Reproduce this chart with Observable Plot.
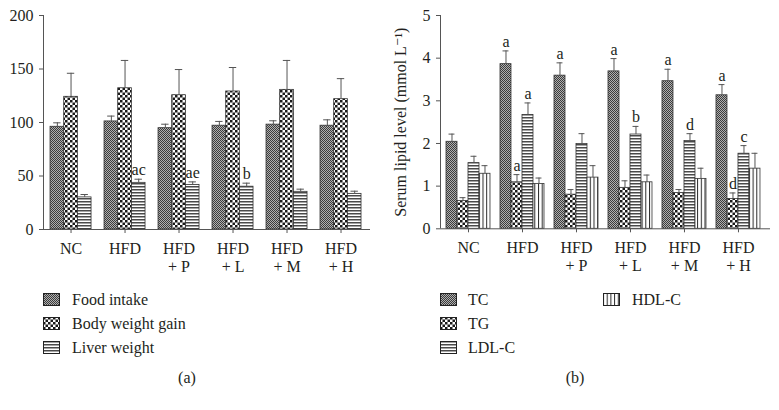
<!DOCTYPE html>
<html>
<head>
<meta charset="utf-8">
<script src="https://cdn.jsdelivr.net/npm/d3@7"></script>
<script src="https://cdn.jsdelivr.net/npm/@observablehq/plot@0.6"></script>
<style>
  html, body { margin: 0; padding: 0; background: #fff; }
  #root { position: relative; width: 779px; height: 410px; font-family: "Liberation Serif", "DejaVu Serif", serif; color: #231f20; }
  .panel { position: absolute; top: 0; }
  .lg { position: absolute; font-family: "Liberation Serif", serif; font-size: 16px; line-height: 16px; white-space: nowrap; }
  .sw { position: absolute; width: 17px; height: 13px; }
  .cap { position: absolute; font-family: "Liberation Serif", serif; font-size: 16px; transform: translateX(-50%); }
</style>
</head>
<body>
<svg width="0" height="0" style="position:absolute">
  <defs>
    <pattern id="pDense" width="2" height="2" patternUnits="userSpaceOnUse">
      <rect width="2" height="2" fill="#b0b0b0"/>
      <rect width="1" height="1" fill="#3c3c3c"/>
      <rect x="1" y="1" width="1" height="1" fill="#3c3c3c"/>
    </pattern>
    <pattern id="pCheck" width="5" height="5" patternUnits="userSpaceOnUse">
      <rect width="5" height="5" fill="#fff"/>
      <rect width="2.5" height="2.5" fill="#1a1a1a"/>
      <rect x="2.5" y="2.5" width="2.5" height="2.5" fill="#1a1a1a"/>
    </pattern>
    <pattern id="pH" width="3" height="3" patternUnits="userSpaceOnUse">
      <rect width="3" height="3" fill="#fff"/>
      <rect width="3" height="1.5" fill="#4a4a4a"/>
    </pattern>
    <pattern id="pV" width="3.7" height="3.7" patternUnits="userSpaceOnUse">
      <rect width="3.7" height="3.7" fill="#fff"/>
      <rect width="1" height="3.7" fill="#2a2a2a"/>
    </pattern>
  </defs>
</svg>
<div id="root"></div>
<script>
// ---------- data ----------
const groups = ["NC", "HFD", "HFD\n+ P", "HFD\n+ L", "HFD\n+ M", "HFD\n+ H"];

// Panel (a)
const seriesA = ["Food intake", "Body weight gain", "Liver weight"];
const foodIntake = [96, 101, 94.7, 97, 98, 97];
const foodIntakeSD = [3.7, 5, 3.7, 4, 3.6, 5.5];
const bodyWeightGain = [124, 132, 125.5, 129, 130.5, 121.8];
const bodyWeightGainSD = [22, 26, 24, 22.4, 27.5, 19.2];
const liverWeight = [30, 43.6, 41.7, 40, 35.2, 33.3];
const liverWeightSD = [2.7, 3.4, 2.8, 3.3, 2.5, 2.5];
const liverWeightSig = ["", "ac", "ae", "b", "", ""];
const yTicksA = [0, 50, 100, 150, 200];

// Panel (b)
const seriesB = ["TC", "TG", "LDL-C", "HDL-C"];
const tc = [2.04, 3.86, 3.59, 3.69, 3.46, 3.13];
const tcSD = [0.18, 0.31, 0.30, 0.30, 0.28, 0.25];
const tcSig = ["", "a", "a", "a", "a", "a"];
const tg = [0.65, 1.09, 0.80, 0.96, 0.84, 0.70];
const tgSD = [0.08, 0.18, 0.12, 0.165, 0.08, 0.14];
const tgSig = ["", "a", "", "", "", "d"];
const ldl = [1.54, 2.67, 1.99, 2.21, 2.06, 1.76];
const ldlSD = [0.16, 0.28, 0.24, 0.19, 0.17, 0.19];
const ldlSig = ["", "a", "", "b", "d", "c"];
const hdl = [1.29, 1.05, 1.20, 1.09, 1.17, 1.41];
const hdlSD = [0.19, 0.14, 0.28, 0.17, 0.25, 0.36];
const hdlSig = ["", "", "", "", "", ""];
const yTicksB = [0, 1, 2, 3, 4, 5];

const patterns = ["url(#pDense)", "url(#pCheck)", "url(#pH)", "url(#pV)"];

// ---------- build ----------
function rowsFor(list, bw) {
  const n = list.length, rows = [];
  list.forEach((s, j) => {
    s.values.forEach((v, i) => {
      const c = i + (j - (n - 1) / 2) * bw;
      rows.push({i, c, x1: c - bw / 2, x2: c + bw / 2, v, hi: v + s.sd[i],
                 sig: s.sig ? s.sig[i] : "", pat: patterns[s.pat]});
    });
  });
  return rows;
}

function panel({rows, bw, xDomain, yDomain, yTicks, width, height, marginLeft, marginRight, marginTop, marginBottom, ylabel}) {
  const cap = bw * 0.27;
  return Plot.plot({
    width, height, marginLeft, marginRight, marginTop, marginBottom,
    style: {fontFamily: "Liberation Serif, DejaVu Serif, serif", fontSize: "15px", color: "#231f20", background: "transparent", overflow: "visible"},
    x: {type: "linear", domain: xDomain},
    y: {domain: yDomain},
    color: {type: "identity"},
    marks: [
      Plot.rectY(rows, {x1: "x1", x2: "x2", y1: 0, y2: "v", fill: "pat", stroke: "#333", strokeWidth: 0.8}),
      Plot.ruleX(rows, {x: "c", y1: "v", y2: "hi", stroke: "#555", strokeWidth: 1}),
      Plot.ruleY(rows, {y: "hi", x1: d => d.c - cap, x2: d => d.c + cap, stroke: "#555", strokeWidth: 1}),
      Plot.text(rows.filter(d => d.sig), {x: "c", y: "hi", text: "sig", dy: -4, lineAnchor: "bottom", fontSize: 16, fill: "#231f20"}),
      Plot.ruleY([yDomain[0]], {stroke: "#555", strokeWidth: 1}),
      Plot.ruleX([xDomain[0]], {stroke: "#555", strokeWidth: 1}),
      Plot.axisX({ticks: d3.range(groups.length), tickFormat: i => groups[i], tickSize: 4, tickPadding: 8, fontSize: 16, lineHeight: 1.1, stroke: "#555", label: null}),
      Plot.axisY({ticks: yTicks, tickFormat: d3.format("d"), tickSize: 4, tickPadding: 6, fontSize: 16, stroke: "#555",
                  label: ylabel || null, labelAnchor: "center", labelArrow: "none", labelOffset: 46})
    ]
  });
}

const root = document.getElementById("root");

const rowsA = rowsFor([
  {values: foodIntake, sd: foodIntakeSD, pat: 0},
  {values: bodyWeightGain, sd: bodyWeightGainSD, pat: 1},
  {values: liverWeight, sd: liverWeightSD, sig: liverWeightSig, pat: 2}
], 13.67 / 54);
const plotA = panel({rows: rowsA, bw: 13.67 / 54, xDomain: [-0.51, 5.546], yDomain: [0, 200], yTicks: yTicksA,
  width: 390, height: 275, marginLeft: 43, marginRight: 20, marginTop: 15, marginBottom: 46});
plotA.classList.add("panel"); plotA.style.left = "0px";
root.appendChild(plotA);

const rowsB = rowsFor([
  {values: tc, sd: tcSD, sig: tcSig, pat: 0},
  {values: tg, sd: tgSD, sig: tgSig, pat: 1},
  {values: ldl, sd: ldlSD, sig: ldlSig, pat: 2},
  {values: hdl, sd: hdlSD, sig: hdlSig, pat: 3}
], 11 / 54);
const plotB = panel({rows: rowsB, bw: 11 / 54, xDomain: [-0.5185, 5.593], yDomain: [0, 5], yTicks: yTicksB,
  width: 389, height: 275, marginLeft: 50, marginRight: 9, marginTop: 15, marginBottom: 46.7,
  ylabel: "Serum lipid level (mmol L\u207B\u00B9)"});
plotB.classList.add("panel"); plotB.style.left = "390px";
root.appendChild(plotB);

// ---------- legends ----------
function legendItem(label, pat, x, y, tx) {
  const s = document.createElementNS("http://www.w3.org/2000/svg", "svg");
  s.setAttribute("class", "sw");
  s.setAttribute("width", 17); s.setAttribute("height", 13);
  s.style.left = x + "px"; s.style.top = y + "px";
  s.innerHTML = `<rect x="0.5" y="0.5" width="16" height="12" fill="${pat}" stroke="#222" stroke-width="1"/>`;
  root.appendChild(s);
  const t = document.createElement("div");
  t.className = "lg"; t.textContent = label;
  t.style.left = tx + "px"; t.style.top = (y - 1) + "px";
  root.appendChild(t);
}
const rowsY = [293, 317, 341];
seriesA.forEach((s, j) => legendItem(s, patterns[j], 43, rowsY[j], 72));
seriesB.slice(0, 3).forEach((s, j) => legendItem(s, patterns[j], 440, rowsY[j], 468));
legendItem(seriesB[3], patterns[3], 603, rowsY[0], 632);

function caption(text, x) {
  const c = document.createElement("div");
  c.className = "cap"; c.textContent = text;
  c.style.left = x + "px"; c.style.top = "369px";
  root.appendChild(c);
}
caption("(a)", 187);
caption("(b)", 575);
</script>
</body>
</html>
